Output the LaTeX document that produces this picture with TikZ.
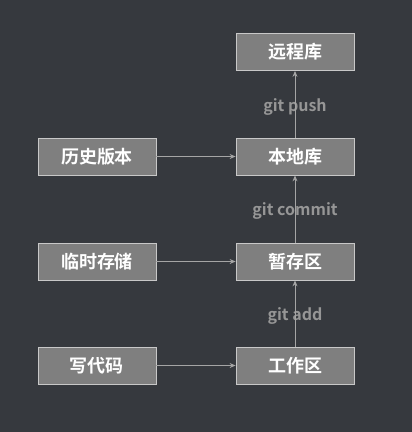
\documentclass[tikz,border=0pt]{standalone}
\usepackage{fontspec}
\usepackage{xcolor}
\setmainfont{Noto Sans CJK SC}
\newfontfamily\cjkbold{Noto Sans CJK SC Bold}
\definecolor{bgdark}{RGB}{54,57,62}
\definecolor{boxgray}{RGB}{127,127,127}
\definecolor{boxline}{RGB}{200,200,200}
\definecolor{arrowgray}{RGB}{165,165,165}
\definecolor{labelgray}{RGB}{150,150,150}
\usetikzlibrary{arrows.meta}

\begin{document}
\begin{tikzpicture}[x=1pt, y=-1pt,
            every node/.style = {font=\cjkbold\fontsize{18}{20}\selectfont},
            area/.style = {draw=boxline, fill=boxgray, text=white, line width=0.8pt,
                minimum width=118pt, minimum height=37pt, inner sep=0pt},
            flow/.style = {draw=arrowgray, line width=0.9pt, -{Stealth[length=6pt,width=5pt]}},
            cmd/.style = {text=labelgray, font=\cjkbold\fontsize{16}{18}\selectfont}]
            \fill[bgdark] (0,0) rectangle (412,432);
            \useasboundingbox (0,0) rectangle (412,432);
            % right column
            \node[area] (remote) at (295,52) {远程库};
            \node[area] (local) at (295,156.5) {本地库};
            \node[area] (stage) at (295,261.5) {暂存区};
            \node[area] (work) at (295,365.5) {工作区};
            % left column
            \node[area] (history) at (97,156.5) {历史版本};
            \node[area] (temp) at (97,261.5) {临时存储};
            \node[area] (code) at (97,365.5) {写代码};
            % commands
            \node[cmd] (push) at (295,107) {git push};
            \node[cmd] (commit) at (295,211) {git commit};
            \node[cmd] (add) at (295,316) {git add};
            % connectors
            \draw[flow] (history) -- (local);
            \draw[flow] (temp) -- (stage);
            \draw[flow] (code) -- (work);
            \draw[flow] (work) -- (stage);
            \draw[flow] (stage) -- (local);
            \draw[flow] (local) -- (remote);
        \end{tikzpicture}
\end{document}
